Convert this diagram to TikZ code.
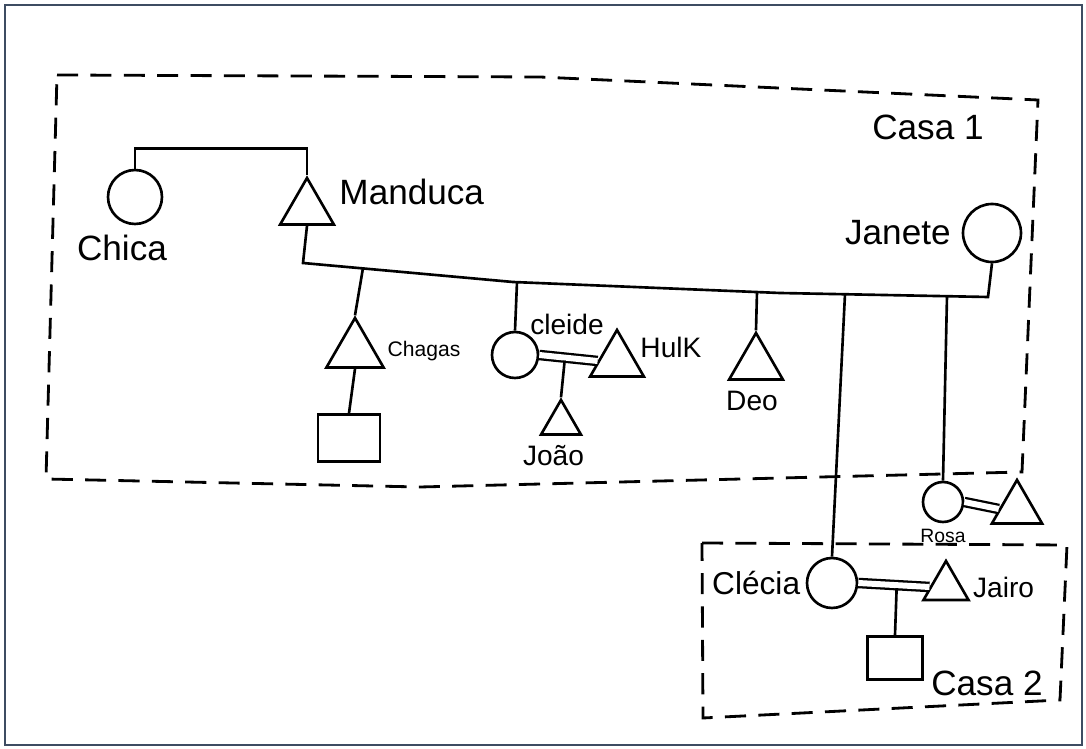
\documentclass[tikz,border=0pt]{standalone}
\usepackage{fontspec}
\setmainfont{Liberation Sans}
\usetikzlibrary{positioning, shapes.geometric}
\definecolor{ardosia}{RGB}{61,76,98}

\begin{document}
\begin{tikzpicture}[
            x=0.02cm, y=-0.02cm,
            line width=1.5pt,
            mulher/.style={circle, draw, inner sep=0pt},
            homem/.style={regular polygon, regular polygon sides=3, draw, inner sep=0pt},
            crianca/.style={rectangle, draw, inner sep=0pt, minimum width=1.24cm, minimum height=0.94cm},
            casamento/.style={double, double distance=3.4pt, line width=1.3pt},
            casa/.style={dash pattern=on 12pt off 7pt, line width=1.6pt},
            rotulo/.style={inner sep=1pt, font=\fontsize{20}{24}\selectfont},
            rotuloM/.style={inner sep=1pt, font=\fontsize{16}{19}\selectfont},
            rotuloP/.style={inner sep=1pt, font=\fontsize{12}{14}\selectfont}
        ]

\useasboundingbox (0,0) rectangle (1086,749);
\draw[ardosia, line width=1.2pt] (5,5) rectangle (1082,745);

% Pessoas
            \node[mulher, minimum size=1.08cm] (chica) at (135,197) {};
            \node[homem, minimum size=1.24cm] (manduca) at (307,209) {};
            \node[mulher, minimum size=1.16cm] (janete) at (992,233) {};
            \node[homem, minimum size=1.32cm] (chagas) at (355,351) {};
            \node[crianca] (filhoChagas) at (349,438) {};
            \node[mulher, minimum size=0.92cm] (cleide) at (515,355) {};
            \node[homem, minimum size=1.24cm] (hulk) at (617,361) {};
            \node[homem, minimum size=0.92cm] (joao) at (561,423) {};
            \node[homem, minimum size=1.24cm] (deo) at (756,364) {};
            \node[mulher, minimum size=1cm] (clecia) at (832,583) {};
            \node[homem, minimum size=1.04cm] (jairo) at (946,587) {};
            \node[crianca, minimum width=1.1cm, minimum height=0.86cm] (filhoClecia) at (895,658) {};
            \node[mulher, minimum size=0.8cm] (rosa) at (943,502) {};
            \node[homem, minimum size=1.16cm] (maridoRosa) at (1017,509) {};

% Linha dos filhos
            \coordinate (d0) at (303,263);
            \coordinate (d1) at (513,282);
            \coordinate (d2) at (780,293);
            \coordinate (d3) at (988,297);
            \coordinate (fChagas) at (363,268);
            \coordinate (fCleide) at (517,282);
            \coordinate (fDeo) at (757,292);
            \coordinate (fClecia) at (845,294);
            \coordinate (fRosa) at (947,296);

% Ligacoes
            \draw (chica.north) -- ++(0,-20) -| (manduca.north);
            \draw (manduca.south) -- (d0) -- (d1) -- (d2) -- (d3) -- (janete.south);
            \draw (fChagas) -- (chagas.north);
            \draw (chagas.south) -- (filhoChagas.north);
            \draw (fCleide) -- (cleide.north);
            \draw[casamento] (cleide.east) -- coordinate[pos=0.44] (mCleide) (hulk.west);
            \draw[shorten <=1.7pt] (mCleide) -- (joao.north);
            \draw (fDeo) -- (deo.north);
            \draw (fClecia) -- (clecia.north);
            \draw[casamento] (clecia.east) -- coordinate[pos=0.54] (mClecia) (jairo.west);
            \draw[shorten <=1.7pt] (mClecia) -- (filhoClecia.north);
            \draw (fRosa) -- (rosa.north);
            \draw[casamento] (rosa.east) -- (maridoRosa.west);

% Casas
            \draw[casa] (57,75) -- (540,77) -- (1038,100) -- (1022,472) -- (420,487) -- (46,479) -- cycle;
            \draw[casa] (702,543) -- (1067,545) -- (1060,700) -- (703,718) -- cycle;

% Nomes
            \node[rotulo, below=0.14cm of chica, xshift=-0.26cm] (tChica) {Chica};
            \node[rotulo, right=0.2cm of manduca, yshift=0.34cm] (tManduca) {Manduca};
            \node[rotulo, left=0.16cm of janete] (tJanete) {Janete};
            \node[rotuloP, right=0.18cm of chagas] (tChagas) {Chagas};
            \node[rotuloM, above right=0cm and -0.1cm of cleide] (tCleide) {cleide};
            \node[rotuloM, right=0.02cm of hulk, yshift=0.28cm] (tHulk) {HulK};
            \node[rotuloM, below=0.12cm of joao, xshift=-0.15cm] (tJoao) {João};
            \node[rotuloM, below=0.14cm of deo, xshift=-0.08cm] (tDeo) {Deo};
            \node[rotulo, left=0.05cm of clecia, font=\fontsize{18}{22}\selectfont] (tClecia) {Clécia};
            \node[rotuloM, right=0.15cm of jairo] (tJairo) {Jairo};
            \node[rotuloP, below=0.05cm of rosa, font=\fontsize{11}{13}\selectfont] (tRosa) {Rosa};
            \node[rotulo] (tCasa1) at (928,127) {Casa 1};
            \node[rotulo] (tCasa2) at (987,683) {Casa 2};

        \end{tikzpicture}
\end{document}
